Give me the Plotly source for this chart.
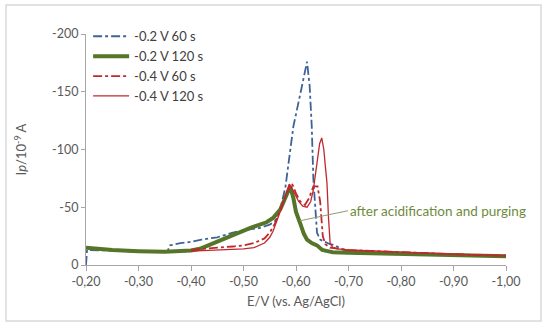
import plotly.graph_objects as go

# ---- data ----
blue_x = [-0.200, -0.202, -0.25, -0.30, -0.355, -0.360, -0.38, -0.40, -0.42, -0.45, -0.48, -0.50, -0.53,
          -0.55, -0.56, -0.57, -0.58, -0.595, -0.610, -0.621, -0.626, -0.630, -0.633, -0.637, -0.640,
          -0.646, -0.655, -0.665, -0.675, -0.685, -0.70, -0.75, -0.80, -0.85, -0.90, -0.95, -1.00]
blue_y = [0, -13, -12.5, -11.5, -11.5, -17, -19, -20, -22, -24, -28, -30, -32,
          -35, -38, -48, -68, -120, -152, -176, -155, -120, -75, -45, -28,
          -22, -20, -18, -17, -14, -12, -11, -10, -9.5, -9, -8.5, -8]

green_x = [-0.20, -0.25, -0.30, -0.35, -0.40, -0.417, -0.449, -0.48, -0.512, -0.544, -0.557, -0.57,
           -0.58, -0.589, -0.595, -0.600, -0.608, -0.615, -0.621, -0.63, -0.64, -0.645, -0.65, -0.66,
           -0.67, -0.70, -0.75, -0.80, -0.85, -0.90, -0.95, -1.00]
green_y = [-15, -13, -12, -11.5, -12.5, -14, -20, -26, -32, -37, -41, -48,
           -58, -68, -58, -46, -36, -27, -22, -19, -17, -15, -13, -12,
           -11, -10.5, -10, -9.5, -9, -8.5, -8, -7.5]

red60_x = [-0.40, -0.42, -0.45, -0.48, -0.50, -0.52, -0.54, -0.55, -0.56, -0.57, -0.58, -0.592, -0.600,
           -0.608, -0.617, -0.625, -0.633, -0.641, -0.646, -0.651, -0.656, -0.665, -0.68, -0.70, -0.75,
           -0.80, -0.85, -0.90, -0.95, -1.00]
red60_y = [-13, -14, -15, -16, -17, -19, -23, -28, -36, -48, -60, -71, -62,
           -55, -52, -58, -68, -68, -55, -25, -18, -15, -14, -13, -12,
           -11, -10, -9, -8.5, -8]

red120_x = [-0.40, -0.43, -0.46, -0.50, -0.52, -0.54, -0.55, -0.556, -0.565, -0.576, -0.587, -0.595,
            -0.605, -0.613, -0.621, -0.628, -0.633, -0.640, -0.645, -0.649, -0.653, -0.656, -0.659,
            -0.662, -0.665, -0.67, -0.68, -0.70, -0.75, -0.80, -0.85, -0.90, -0.95, -1.00]
red120_y = [-12, -12.5, -13, -14, -15, -19, -24, -29, -40, -54, -70, -64,
            -55, -51, -50, -55, -65, -91, -105, -110, -100, -85, -71,
            -40, -19, -15, -14, -13, -12, -11, -10, -9, -8.5, -8]

names = ["-0.2 V 60 s", "-0.2 V 120 s", "-0.4 V 60 s", "-0.4 V 120 s"]

x_tickvals = [-0.2, -0.3, -0.4, -0.5, -0.6, -0.7, -0.8, -0.9, -1.0]
x_ticktext = ["-0,20", "-0,30", "-0,40", "-0,50", "-0,60", "-0,70", "-0,80", "-0,90", "-1,00"]
y_tickvals = [-200, -150, -100, -50, 0]
y_ticktext = ["-200", "-150", "-100", "-50", "0"]

annot_text = "after acidification and purging"
annot_tip = (-0.6076, -38.3)
annot_tail = (-0.699, -47)

FONT = "Lato, 'Open Sans', sans-serif"
GREY = "#595959"

fig = go.Figure()
fig.add_trace(go.Scatter(x=blue_x, y=blue_y, mode="lines", name=names[0],
                         line=dict(color="#3E6396", width=1.8, dash="dashdot")))
fig.add_trace(go.Scatter(x=green_x, y=green_y, mode="lines", name=names[1],
                         line=dict(color="#557528", width=4)))
fig.add_trace(go.Scatter(x=red60_x, y=red60_y, mode="lines", name=names[2],
                         line=dict(color="#C0282E", width=1.8, dash="dashdot")))
fig.add_trace(go.Scatter(x=red120_x, y=red120_y, mode="lines", name=names[3],
                         line=dict(color="#C0282E", width=1.3)))

fig.add_annotation(x=annot_tip[0], y=annot_tip[1], ax=annot_tail[0], ay=annot_tail[1],
                   axref="x", ayref="y", xref="x", yref="y",
                   text=annot_text, showarrow=True, arrowhead=0, arrowwidth=1,
                   arrowcolor="#8E9C72", xanchor="left",
                   font=dict(family=FONT, size=13.5, color="#6E8B3D"))

# outer frame
fig.add_shape(type="rect", xref="paper", yref="paper",
              x0=(6 - 86) / 420, x1=(541 - 86) / 420,
              y0=(265 - 321) / 231, y1=(265 - 5) / 231,
              line=dict(color="#D9D9D9", width=1.5), layer="below")

fig.update_layout(
    width=550, height=328,
    margin=dict(l=86, r=44, t=34, b=63),
    paper_bgcolor="white", plot_bgcolor="white",
    font=dict(family=FONT, size=12.5, color=GREY),
    showlegend=True,
    legend=dict(x=0.005, y=1.055, xanchor="left", yanchor="top",
                bgcolor="rgba(0,0,0,0)", font=dict(size=13, color="#404040"),
                itemwidth=36, tracegroupgap=0),
    xaxis=dict(range=[-0.2, -1.0], tickvals=x_tickvals, ticktext=x_ticktext,
               showgrid=False, zeroline=False, showline=True, linecolor="#A6A6A6",
               ticks="outside", ticklen=5, tickcolor="#A6A6A6",
               title=dict(text="E/V (vs. Ag/AgCl)", standoff=8, font=dict(size=13))),
    yaxis=dict(range=[0, -200], tickvals=y_tickvals, ticktext=y_ticktext,
               showgrid=False, zeroline=False, showline=True, linecolor="#A6A6A6",
               ticks="outside", ticklen=4, tickcolor="#A6A6A6",
               title=dict(text="I<i>p</i>/10<sup>-9</sup> A", standoff=22, font=dict(size=13))),
)

fig.write_html("out.html", config={"displayModeBar": False},
               post_script="document.body.style.margin='0';")
